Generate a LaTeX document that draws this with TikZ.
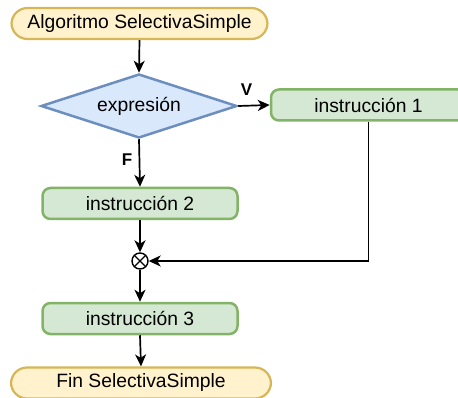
\documentclass[tikz,border=0pt]{standalone}
\usepackage{fontspec}
\setmainfont{Liberation Sans}
\usetikzlibrary{shapes.geometric,arrows.meta}
\definecolor{termfill}{HTML}{FFF2CC}
\definecolor{termdraw}{HTML}{D6B656}
\definecolor{decfill}{HTML}{DAE8FC}
\definecolor{decdraw}{HTML}{6C8EBF}
\definecolor{instfill}{HTML}{D5E8D4}
\definecolor{instdraw}{HTML}{82B366}
\begin{document}
\begin{tikzpicture}[x=1pt,y=-1pt,
  every node/.style={font=\fontsize{19.3}{22}\selectfont},
  terminal/.style={draw=termdraw,fill=termfill,line width=2.2pt,rounded corners=16pt,minimum height=31pt,inner sep=0pt},
  decision/.style={diamond,draw=decdraw,fill=decfill,line width=2.5pt,minimum width=196pt,minimum height=64pt,inner sep=0pt,aspect=3},
  instr/.style={draw=instdraw,fill=instfill,line width=2.5pt,rounded corners=8pt,minimum width=195pt,minimum height=31pt,inner sep=0pt},
  junction/.style={circle,draw=black,fill=white,line width=1.4pt,minimum size=16pt,inner sep=0pt,
    path picture={\draw[line width=1.4pt] (path picture bounding box.north west)--(path picture bounding box.south east)
      (path picture bounding box.north east)--(path picture bounding box.south west);}},
  conn/.style={line width=1.7pt,-{Stealth[length=12pt,width=11pt,inset=3.5pt]}},
  elabel/.style={font=\fontsize{17}{19}\selectfont\bfseries}
]
\useasboundingbox (0,0) rectangle (458,398);
\node[terminal,minimum width=256pt] (start) at (139.5,23.5) {Algoritmo SelectivaSimple};
\node[decision] (dec) at (139,106) {expresión};
\node[instr] (i1) at (368.5,105) {instrucción 1};
\node[instr] (i2) at (140,203.5) {instrucción 2};
\node[junction] (j) at (140,261) {};
\node[instr] (i3) at (140,318.5) {instrucción 3};
\node[terminal,minimum width=260pt] (end) at (141,383) {Fin SelectivaSimple};
\draw[conn] (start.south) -- (dec.north);
\draw[conn] (dec.east) -- (i1.west);
\draw[conn] (dec.south) -- (i2.north);
\draw[conn] (i2.south) -- (j.north);
\draw[conn] (i1.south) |- (j.east);
\draw[conn] (j.south) -- (i3.north);
\draw[conn] (i3.south) -- (end.north);
\node[elabel] (lv) at (246.5,90) {V};
\node[elabel] (lf) at (127,160) {F};
\end{tikzpicture}
\end{document}
